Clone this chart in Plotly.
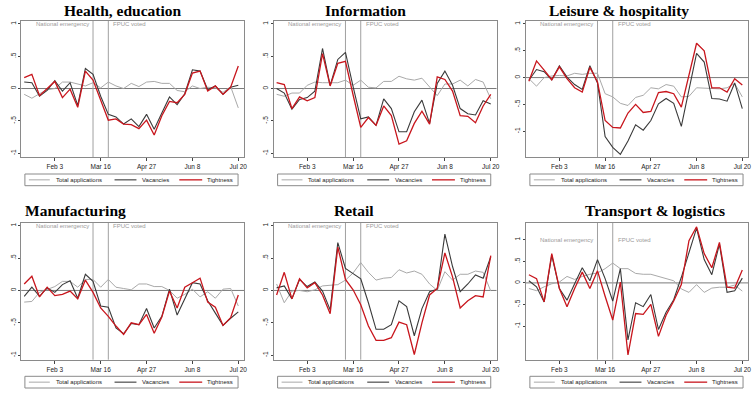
import pandas as pd
import plotly.graph_objects as go

weeks = pd.date_range("2020-01-06", periods=29, freq="7D")

titles = ["Health, education", "Information", "Leisure & hospitality",
          "Manufacturing", "Retail", "Transport & logistics"]
series_names = ["Total applications", "Vacancies", "Tightness"]
tick_dates = ["2020-02-03", "2020-03-16", "2020-04-27", "2020-06-08", "2020-07-20"]
tick_text = ["Feb 3", "Mar 16", "Apr 27", "Jun 8", "Jul 20"]
ytick_vals = [-1, -0.5, 0, 0.5, 1]
ytick_text = ["-1", "-.5", "0", ".5", "1"]
event_dates = ["2020-03-09", "2020-03-23"]
event_labels = ["National emergency", "FPUC voted"]

health_apps = [-0.09, -0.15, -0.08, -0.02, 0.00, 0.10, 0.10, 0.07, 0.04, 0.09, 0.01, 0.10, 0.04, 0.00, 0.08,
               0.03, 0.10, 0.11, 0.08, 0.08, -0.03, -0.05, 0.04, 0.00, 0.02, 0.01, -0.06, 0.03, -0.30]
health_vac = [0.10, 0.09, -0.12, -0.03, 0.12, -0.04, 0.09, -0.26, 0.31, 0.22, -0.12, -0.40, -0.44, -0.55, -0.47,
              -0.59, -0.40, -0.63, -0.38, -0.13, -0.25, -0.08, 0.29, 0.27, -0.02, 0.04, -0.09, 0.02, 0.05]
health_tight = [0.17, 0.22, -0.11, 0.00, 0.11, -0.14, -0.01, -0.29, 0.27, 0.13, -0.18, -0.49, -0.47, -0.55, -0.56,
                -0.62, -0.49, -0.72, -0.42, -0.20, -0.22, -0.09, 0.24, 0.27, -0.04, 0.04, -0.09, 0.02, 0.35]

info_apps = [-0.09, -0.12, -0.07, -0.07, 0.05, 0.10, 0.09, 0.09, 0.09, 0.13, 0.05, 0.13, 0.02, 0.01, 0.11,
             0.11, 0.19, 0.15, 0.13, 0.16, 0.02, -0.11, 0.07, 0.07, 0.13, 0.04, 0.14, 0.10, -0.16]
info_vac = [0.00, -0.07, -0.32, -0.17, -0.14, -0.04, 0.62, 0.05, 0.45, 0.56, 0.03, -0.47, -0.44, -0.57, -0.16,
            -0.31, -0.67, -0.67, -0.36, -0.18, -0.54, 0.08, 0.27, 0.05, -0.31, -0.39, -0.41, -0.19, -0.24]
info_tight = [0.09, 0.06, -0.31, -0.13, -0.19, -0.14, 0.54, 0.04, 0.39, 0.42, -0.10, -0.60, -0.45, -0.57, -0.27,
              -0.42, -0.86, -0.81, -0.54, -0.35, -0.55, 0.18, 0.14, -0.04, -0.42, -0.43, -0.53, -0.27, -0.09]

leisure_apps = [-0.02, -0.16, 0.00, 0.03, 0.04, 0.03, 0.08, 0.06, 0.08, 0.08, -0.30, -0.36, -0.48, -0.52, -0.37,
                -0.33, -0.19, -0.21, -0.13, -0.16, -0.36, -0.35, -0.19, -0.20, -0.20, -0.21, -0.19, -0.11, -0.36]
leisure_vac = [-0.05, 0.15, 0.11, -0.04, 0.22, 0.01, -0.13, -0.22, 0.22, -0.10, -1.10, -1.30, -1.43, -1.18, -0.88,
               -0.98, -0.80, -0.49, -0.39, -0.48, -0.91, -0.25, 0.45, 0.29, -0.39, -0.40, -0.44, -0.10, -0.58]
leisure_tight = [-0.07, 0.31, 0.14, -0.04, 0.20, -0.02, -0.19, -0.27, 0.19, -0.08, -0.80, -0.93, -0.94, -0.66, -0.50,
                 -0.65, -0.63, -0.28, -0.26, -0.30, -0.55, 0.05, 0.64, 0.50, -0.19, -0.19, -0.27, -0.02, -0.14]

manuf_apps = [-0.18, -0.17, -0.03, 0.01, 0.06, 0.14, 0.14, 0.05, 0.17, 0.17, 0.05, 0.17, 0.05, 0.03, 0.01,
              0.10, 0.10, 0.06, 0.06, 0.00, -0.12, -0.06, 0.02, -0.10, -0.02, -0.12, 0.02, 0.03, -0.24]
manuf_vac = [-0.09, 0.05, -0.09, 0.04, -0.03, 0.09, 0.15, -0.12, 0.25, 0.14, -0.24, -0.26, -0.58, -0.67, -0.51,
             -0.53, -0.28, -0.58, -0.40, 0.02, -0.38, -0.14, 0.12, 0.10, -0.16, -0.35, -0.54, -0.43, -0.33]
manuf_tight = [0.10, 0.22, -0.10, 0.05, -0.08, -0.06, -0.01, -0.13, 0.16, -0.03, -0.27, -0.40, -0.55, -0.68, -0.50,
               -0.53, -0.37, -0.66, -0.41, -0.01, -0.27, 0.05, 0.12, 0.19, -0.18, -0.26, -0.54, -0.42, -0.07]

retail_apps = [0.10, -0.19, -0.01, 0.00, -0.02, 0.01, 0.07, 0.08, 0.09, 0.16, 0.27, 0.43, 0.28, 0.16, 0.19,
               0.20, 0.32, 0.27, 0.30, 0.25, 0.10, 0.00, 0.29, 0.16, 0.25, 0.25, 0.30, 0.28, -0.01]
retail_vac = [0.04, 0.07, -0.13, 0.17, 0.06, 0.13, -0.01, -0.30, 0.74, 0.34, 0.26, 0.18, -0.19, -0.60, -0.60,
              -0.53, -0.16, -0.25, -0.70, -0.28, -0.02, 0.02, 0.87, 0.37, -0.02, 0.10, 0.24, 0.19, 0.52]
retail_tight = [-0.07, 0.28, -0.13, 0.18, 0.04, 0.12, -0.07, -0.36, 0.67, 0.17, 0.01, -0.22, -0.55, -0.77, -0.77,
                -0.73, -0.49, -0.53, -0.99, -0.50, -0.07, 0.03, 0.58, 0.21, -0.27, -0.16, -0.08, -0.10, 0.54]

transport_apps = [-0.13, -0.18, -0.09, -0.02, 0.02, 0.15, 0.08, 0.15, 0.20, 0.23, 0.33, 0.46, 0.33, 0.33, 0.22,
                  0.20, 0.20, 0.15, 0.10, 0.05, -0.14, -0.22, -0.04, -0.22, -0.12, -0.10, -0.10, -0.05, -0.19]
transport_vac = [0.05, -0.09, -0.44, 0.64, -0.13, -0.40, -0.02, 0.35, 0.05, 0.54, 0.10, -0.42, 0.33, -1.32, -0.46,
                 -0.55, -0.27, -1.08, -0.68, -0.39, 0.13, 0.73, 1.27, 0.54, 0.19, 0.90, -0.22, -0.18, 0.11]
transport_tight = [0.19, 0.10, -0.44, 0.68, -0.13, -0.55, -0.13, 0.25, -0.13, 0.28, -0.31, -0.86, 0.02, -1.67, -0.71,
                   -0.73, -0.50, -1.24, -0.75, -0.42, -0.04, 0.98, 1.30, 0.68, 0.35, 0.94, -0.10, -0.12, 0.30]

panels = [
    (health_apps, health_vac, health_tight),
    (info_apps, info_vac, info_tight),
    (leisure_apps, leisure_vac, leisure_tight),
    (manuf_apps, manuf_vac, manuf_tight),
    (retail_apps, retail_vac, retail_tight),
    (transport_apps, transport_vac, transport_tight),
]
y_ranges = [[-1.06, 1.05], [-1.06, 1.05], [-1.48, 1.06], [-1.07, 1.05], [-1.07, 1.05], [-1.78, 1.40]]

W, H = 756, 397
col_x = [(21.3, 245.0), (274.7, 498.5), (528.0, 751.0)]
row_y = [(20.7, 157.0), (222.5, 359.7)]
title_pos = [(122.5, 0.0), (366.5, 0.0), (621.0, 0.0), (76.0, 199.5), (355.7, 199.5), (658.0, 199.5)]
legend_pos = [(25.0, 174.0), (278.7, 174.0), (532.0, 174.0), (25.0, 376.3), (278.7, 376.3), (532.0, 376.3)]
legend_w, legend_h = 214.0, 11.7
legend_line_off = [(4, 25), (90, 112), (155, 178)]
legend_text_off = [30, 117, 182]

colors = ["#a9a9a9", "#3a3a3a", "#c8161d"]
widths = [1.0, 1.1, 1.3]
sans = "Liberation Sans, Arial, sans-serif"
tick_font = dict(family=sans, size=6.5, color="#222")

fig = go.Figure()
layout = dict(width=W, height=H, margin=dict(l=0, r=0, t=0, b=0),
              paper_bgcolor="white", plot_bgcolor="white", showlegend=False)
shapes = []
annotations = []
x_range = [pd.Timestamp("2020-01-03 06:00"), pd.Timestamp("2020-07-25 06:00")]


def px(x):
    return x / W


def py(y):
    return 1 - y / H


for k in range(6):
    r, c = divmod(k, 3)
    sfx = "" if k == 0 else str(k + 1)
    xa, ya = "x" + sfx, "y" + sfx
    for s in range(3):
        fig.add_trace(go.Scatter(x=weeks, y=panels[k][s], mode="lines", name=series_names[s],
                                 line=dict(color=colors[s], width=widths[s]),
                                 xaxis=xa, yaxis=ya, showlegend=False))
    x0, x1 = col_x[c]
    y0, y1 = row_y[r]
    layout["xaxis" + sfx] = dict(domain=[px(x0), px(x1)], anchor=ya, range=x_range, type="date",
                                 tickvals=pd.to_datetime(tick_dates), ticktext=tick_text,
                                 ticks="outside", ticklen=3, tickcolor="#444", tickwidth=0.8,
                                 showgrid=False, zeroline=False, showline=True, linecolor="#8a8a8a",
                                 linewidth=1, mirror=True, tickfont=tick_font)
    layout["yaxis" + sfx] = dict(domain=[py(y1), py(y0)], anchor=xa, range=y_ranges[k],
                                 tickvals=ytick_vals, ticktext=ytick_text, tickangle=-90,
                                 ticks="outside", ticklen=2, tickcolor="#444", tickwidth=0.8,
                                 showgrid=False, zeroline=False, showline=True, linecolor="#8a8a8a",
                                 linewidth=1, mirror=True, tickfont=tick_font)
    shapes.append(dict(type="line", xref=xa + " domain", yref=ya, x0=0, x1=1, y0=0, y1=0,
                       line=dict(color="#7a7a7a", width=1), layer="below"))
    for d in event_dates:
        shapes.append(dict(type="line", xref=xa, yref=ya + " domain", x0=d, x1=d, y0=0, y1=1,
                           line=dict(color="#a0a0a0", width=1), layer="below"))
    annotations.append(dict(x=event_dates[0], y=1, xref=xa, yref=ya, text=event_labels[0],
                            showarrow=False, xanchor="right", yanchor="middle", xshift=-2,
                            font=dict(family=sans, size=6, color="#9a9a9a")))
    annotations.append(dict(x=event_dates[1], y=1, xref=xa, yref=ya, text=event_labels[1],
                            showarrow=False, xanchor="left", yanchor="middle", xshift=3,
                            font=dict(family=sans, size=6, color="#9a9a9a")))
    tx, ty = title_pos[k]
    annotations.append(dict(x=px(tx), y=py(ty), xref="paper", yref="paper", text="<b>%s</b>" % titles[k],
                            showarrow=False, xanchor="center", yanchor="top",
                            font=dict(family="Liberation Serif, Times New Roman, serif", size=15.5,
                                      color="black")))
    lx, ly = legend_pos[k]
    shapes.append(dict(type="rect", xref="paper", yref="paper", x0=px(lx), x1=px(lx + legend_w),
                       y0=py(ly + legend_h), y1=py(ly), line=dict(color="#8a8a8a", width=1),
                       fillcolor="white"))
    yc = ly + legend_h / 2
    for s in range(3):
        a, b = legend_line_off[s]
        shapes.append(dict(type="line", xref="paper", yref="paper", x0=px(lx + a), x1=px(lx + b),
                           y0=py(yc), y1=py(yc), line=dict(color=colors[s], width=widths[s])))
        annotations.append(dict(x=px(lx + legend_text_off[s]), y=py(yc), xref="paper", yref="paper",
                                text=series_names[s], showarrow=False, xanchor="left", yanchor="middle",
                                xshift=-1, font=dict(family=sans, size=6, color="#222")))

layout["shapes"] = shapes
layout["annotations"] = annotations
fig.update_layout(**layout)
fig.write_html("out.html", config={"displayModeBar": False},
               post_script="document.body.style.margin='0';document.body.style.overflow='hidden';")
